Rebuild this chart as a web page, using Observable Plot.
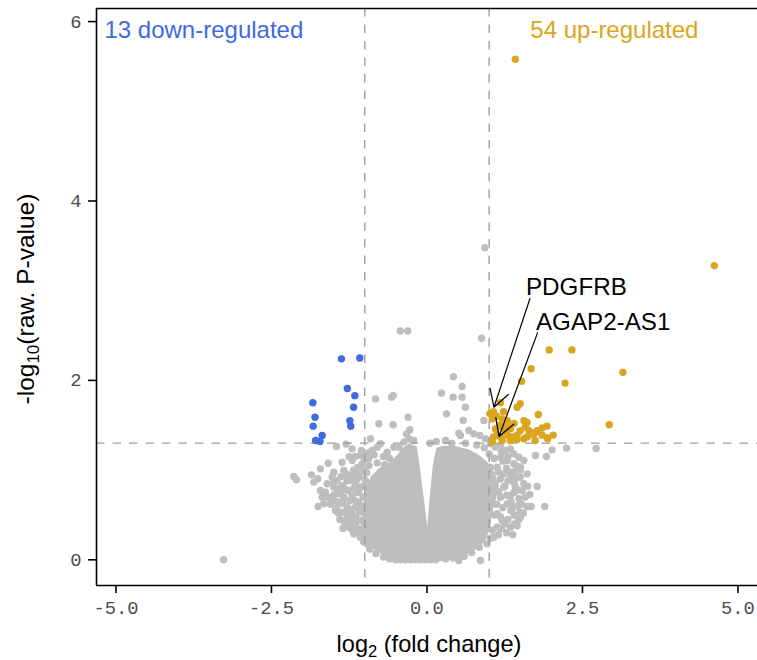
<!DOCTYPE html>
<html><head><meta charset="utf-8">
<script src="https://cdn.jsdelivr.net/npm/d3@7"></script>
<script src="https://cdn.jsdelivr.net/npm/@observablehq/plot@0.6"></script>
<style>
html,body{margin:0;padding:0;background:#fff;}
#chart svg{display:block;}
g[aria-label="x-axis tick"], g[aria-label="y-axis tick"]{stroke:#000;stroke-width:1.6px;}
g[aria-label="x-axis tick label"], g[aria-label="y-axis tick label"]{fill:#4d4d4d;}
</style></head><body><div id="chart"></div>
<script>
// ---- data (log2 fold change, -log10 raw p-value) ----
const downRegulated = [[-1.375,2.24],[-1.08,2.25],[-1.28,1.91],[-1.16,1.83],[-1.18,1.70],[-1.24,1.55],[-1.225,1.49],
  [-1.835,1.75],[-1.80,1.59],[-1.83,1.49],[-1.685,1.385],[-1.79,1.33],[-1.72,1.32]];
const upRegulated = [[1.42,5.58],[4.62,3.28],[1.965,2.34],[2.33,2.34],[3.15,2.09],[1.675,2.13],[2.22,1.97],[1.52,1.99],
  [2.93,1.505],[1.50,1.74],[1.45,1.70],[1.18,1.75],[1.79,1.62],[1.93,1.49],[2.03,1.39],[1.93,1.36],[1.73,1.41],[1.74,1.33],
  [1.01,1.63],[1.07,1.65],[1.05,1.57],[1.23,1.65],[1.21,1.57],[1.29,1.55],[1.10,1.46],[1.21,1.48],[1.26,1.44],[1.34,1.46],
  [1.13,1.40],[1.07,1.37],[1.18,1.37],[1.29,1.39],[1.37,1.37],[1.45,1.39],[1.50,1.44],[1.58,1.48],[1.61,1.53],[1.56,1.55],
  [1.64,1.44],[1.69,1.40],[1.34,1.33],[1.45,1.34],[1.56,1.35],[1.21,1.33],[1.05,1.31],[1.61,1.37],[1.85,1.39],[1.94,1.35],
  [1.77,1.44],[1.12,1.60],[1.40,1.52],[1.30,1.50],[1.17,1.50],[1.85,1.47]];
// non-significant genes: points outside the dense core
const notSignificant = [[-3.27,0.00],[0.93,3.48],[-0.43,2.55],[-0.31,2.55],[0.876,2.47],[0.426,2.04],[2.72,1.24],
  [-2.141,0.929],[-2.098,0.892],[-1.857,0.947],[-1.819,0.866],[-1.755,0.903],[-1.712,1.014],[-1.589,1.077],[-1.525,0.922],
  [-1.498,0.977],[-1.455,1.263],[-1.364,1.088],[-1.337,0.996],[-1.300,1.290],[-1.203,1.107],[-1.149,1.152],[-1.203,1.237],
  [-1.053,1.218],[-1.069,1.163],[-1.750,0.594],[-1.685,0.698],[-1.632,0.754],[-1.551,0.680],[-1.498,0.810],[-1.471,0.550],
  [-1.417,0.643],[-1.391,0.736],[-1.337,0.698],[-1.257,0.773],[-1.310,0.438],[-1.257,0.364],[-1.203,0.513],[-1.149,0.587],
  [-1.123,0.438],[-1.096,0.345],[-1.230,0.884],[-1.123,0.958],[-1.016,0.996],[-1.042,1.070],[-0.935,1.126],[-0.908,1.349],
  [-0.774,1.516],[-0.544,1.505],[-0.828,1.794],[-0.571,1.813],[-0.544,1.832],[-0.303,1.590],[-0.330,1.404],[-0.276,1.449],
  [-0.801,1.256],[-0.748,1.293],[-0.640,1.200],[-0.533,1.256],[-0.453,1.256],[-0.372,1.312],[-0.292,1.349],[-0.212,1.330],
  [-0.989,0.884],[-1.069,0.810],[-1.149,0.847],[-1.284,0.587],[-1.364,0.531],[-1.176,0.289],[-1.069,0.252],[-0.962,0.178],
  [-1.284,0.884],[-1.444,0.884],[-1.605,0.847],[-1.712,0.773],[-1.659,0.624],
  [-0.95,1.19],[-0.85,1.17],[-0.70,1.15],[-0.60,1.13],[-1.12,1.03],[-0.93,1.05],[-0.80,1.08],[-0.68,1.06],
  [-1.20,0.95],[-1.08,0.93],[-0.97,0.97],[-1.38,0.93],[-1.35,0.83],[-1.17,0.80],[-1.02,0.82],[-1.50,0.86],
  [-1.45,0.74],[-1.30,0.78],[-1.20,0.72],[-1.10,0.75],[-1.03,0.70],[-1.55,0.62],[-1.35,0.63],[-1.24,0.66],
  [-1.10,0.64],[-1.05,0.60],[-1.45,0.58],[-1.30,0.52],[-1.20,0.56],[-1.08,0.53],[-1.40,0.45],[-1.22,0.42],
  [-1.15,0.47],[-1.06,0.44],[-1.35,0.35],[-1.20,0.33],[-1.08,0.30],[-1.15,0.38],[-1.02,0.20],[-0.92,0.12],
  [-0.82,0.07],[-0.70,0.03],[-0.60,0.01],[0.30,0.01],[0.42,0.02],[0.60,0.04],[0.72,0.08],[0.84,0.14],
  [-1.48,0.66],[-1.40,0.80],[-1.28,0.95],[-1.18,1.00],[-1.42,0.52],[-1.26,0.46],[-1.32,0.40],[-1.50,0.72],
  [-1.60,0.70],[-1.15,0.66],[-1.12,0.90],[-0.88,1.22],[-1.00,1.12],[-1.25,1.15],
  [0.565,1.932],[0.233,1.858],[0.421,1.813],[0.565,1.813],[0.619,1.702],[0.314,1.627],[0.581,1.553],[0.914,1.553],
  [0.512,1.412],[0.539,1.386],[0.673,1.442],[0.753,1.404],[0.849,1.386],[0.940,1.349],[1.021,1.293],[1.101,1.256],
  [1.182,1.274],[1.262,1.219],[1.343,1.237],[1.396,1.181],[1.476,1.144],[1.557,1.107],[1.503,1.033],[1.396,1.070],
  [1.289,1.107],[1.182,1.144],[1.128,1.033],[1.235,0.958],[1.343,0.977],[1.450,0.921],[1.557,0.847],[1.610,0.958],
  [1.530,0.773],[1.423,0.810],[1.343,0.717],[1.235,0.810],[1.182,0.698],[1.289,0.624],[1.396,0.587],[1.503,0.475],
  [1.503,0.531],[1.412,0.401],[1.343,0.364],[1.476,0.446],[1.610,0.594],[1.675,0.594],[1.653,0.728],[1.771,0.817],
  [1.894,0.594],[1.745,1.163],[1.921,1.152],[2.012,1.226],[2.243,1.245],[1.128,0.513],[1.208,0.438],[1.128,0.364],
  [1.075,0.252],[0.967,0.178],[0.512,-0.008],[0.860,-0.008],
  [0.05,1.30],[0.15,1.32],[0.30,1.33],[0.40,1.30],[0.62,1.30],[0.80,1.28],[0.92,1.25],[1.00,1.18],
  [1.08,1.13],[1.22,1.10],[1.30,1.15],[1.44,1.05],[1.02,1.03],[1.15,0.98],[1.28,1.02],[1.40,0.98],
  [1.50,0.92],[1.18,0.90],[1.30,0.88],[1.40,0.86],[1.10,0.85],[1.15,0.76],[1.28,0.72],[1.40,0.75],
  [1.48,0.68],[1.58,0.70],[1.12,0.62],[1.22,0.58],[1.35,0.55],[1.45,0.60],[1.55,0.52],[1.08,0.50],
  [1.18,0.48],[1.30,0.45],[1.40,0.50],[1.05,0.33],[1.20,0.35],[1.28,0.30],[1.38,0.28],[1.02,0.24],
  [1.35,0.65],[1.25,0.82],[1.35,0.93],[1.46,0.78],[1.52,0.62],[1.25,0.40],[1.15,0.28],[1.45,0.38],
  [1.62,0.82],[1.20,1.20],[1.50,1.00],
  [-0.506,0.0],[-0.426,0.0],[-0.346,0.0],[-0.265,0.0],[-0.185,0.0],[-0.105,0.0],[-0.024,0.0],[0.056,0.0],[0.137,0.0]];
// outline of the densely overlapping core of non-significant genes
const denseCore = [[0.0,0.27],[-0.078,0.70],[-0.147,1.07],[-0.185,1.256],[-0.292,1.274],[-0.372,1.237],[-0.453,1.163],
  [-0.587,1.07],[-0.748,1.014],[-0.882,0.921],[-0.951,0.81],[-0.989,0.661],[-1.016,0.513],[-1.042,0.364],[-0.989,0.252],
  [-0.855,0.141],[-0.694,0.067],[-0.48,0.011],[-0.105,-0.008],[0.217,0.0],[0.539,0.048],[0.753,0.122],[0.914,0.215],
  [0.994,0.364],[1.021,0.513],[1.075,0.661],[1.128,0.81],[1.075,0.959],[0.967,1.07],[0.807,1.163],[0.646,1.219],
  [0.431,1.256],[0.271,1.256],[0.174,1.237],[0.121,1.07],[0.067,0.70],[0.029,0.364]];
const fcThresholds = [-1, 1];
const pThreshold = [-Math.log10(0.05)];
const xTicks = [-5, -2.5, 0, 2.5, 5];
const yTicks = [0, 2, 4, 6];
const geneLabels = [
  {gene:"PDGFRB", lx:1.592, ly:3.04, fx:1.656, fy:2.913, tx:1.077, ty:1.701},
  {gene:"AGAP2-AS1", lx:1.752, ly:2.65, fx:1.777, fy:2.53, tx:1.158, ty:1.375}];
const countLabels = [
  {text:"13 down-regulated", x:-5.185, y:5.901},
  {text:"54 up-regulated", x:4.365, y:5.901}];

// ---- chart ----
const W = 757, H = 660;
const xDomain = [-5.313, 5.314], yDomain = [-0.2865, 6.146];
const gray = "#bebebe", dashC = "#9e9e9e";
const sans = "Liberation Sans, Arial, sans-serif";
const mono = "Liberation Mono, monospace";
const R = 3.7;

const plot = Plot.plot({
  width: W, height: H,
  marginLeft: 96, marginRight: 0, marginTop: 8, marginBottom: 75,
  x: {domain: xDomain, axis: null},
  y: {domain: yDomain, axis: null},
  marks: [
    Plot.line(denseCore, {x: d => d[0], y: d => d[1], curve: "linear-closed", fill: gray, stroke: gray, strokeWidth: 3, strokeLinejoin: "round"}),
    Plot.dot(notSignificant, {x: d => d[0], y: d => d[1], r: R, fill: gray}),
    Plot.ruleX(fcThresholds, {stroke: dashC, strokeWidth: 1.4, strokeDasharray: "8.5,8"}),
    Plot.ruleY(pThreshold, {stroke: dashC, strokeWidth: 1.4, strokeDasharray: "8.5,8"}),
    Plot.dot(downRegulated, {x: d => d[0], y: d => d[1], r: R, fill: "#4169E1"}),
    Plot.dot(upRegulated, {x: d => d[0], y: d => d[1], r: R, fill: "#DAA520"}),
    Plot.arrow(geneLabels, {x1: "fx", y1: "fy", x2: "tx", y2: "ty", stroke: "#000", strokeWidth: 1.2, headLength: 24, headAngle: 60}),
    Plot.text(geneLabels, {x: "lx", y: "ly", text: "gene", textAnchor: "start", fontSize: 24.2, fontFamily: sans, fill: "#000"}),
    Plot.text(countLabels.slice(0,1), {x: "x", y: "y", text: "text", textAnchor: "start", fontSize: 24, fontFamily: sans, fill: "#4169E1"}),
    Plot.text(countLabels.slice(1), {x: "x", y: "y", text: "text", textAnchor: "end", fontSize: 24, fontFamily: sans, fill: "#DAA520"}),
    Plot.ruleX([xDomain[0]], {stroke: "#000", strokeWidth: 1.6}),
    Plot.ruleY([yDomain[0]], {stroke: "#000", strokeWidth: 1.6}),
    Plot.ruleY([yDomain[1]], {stroke: "#000", strokeWidth: 1.6}),
    Plot.axisX(xTicks, {tickSize: 8, tickPadding: 7, tickFormat: d => d.toFixed(1), fontSize: 18.8, fontFamily: mono, label: null}),
    Plot.axisY(yTicks, {tickSize: 8, tickPadding: 7, tickFormat: d => String(d), fontSize: 18.8, fontFamily: mono, label: null})
  ]
});
document.getElementById("chart").appendChild(plot);

// axis titles with subscripts
const svg = d3.select(plot);
const xt = svg.append("text").attr("x", 429).attr("y", 652).attr("text-anchor", "middle")
  .attr("font-family", sans).attr("font-size", 23.6).attr("fill", "#000");
xt.append("tspan").text("log");
xt.append("tspan").attr("font-size", 16.5).attr("dy", 5).text("2");
xt.append("tspan").attr("dy", -5).text(" (fold change)");
const yt = svg.append("text").attr("transform", "translate(33.5,299) rotate(-90)").attr("text-anchor", "middle")
  .attr("font-family", sans).attr("font-size", 24.5).attr("fill", "#000");
yt.append("tspan").text("-log");
yt.append("tspan").attr("font-size", 17).attr("dy", 5).text("10");
yt.append("tspan").attr("dy", -5).text("(raw. P-value)");
</script></body></html>
